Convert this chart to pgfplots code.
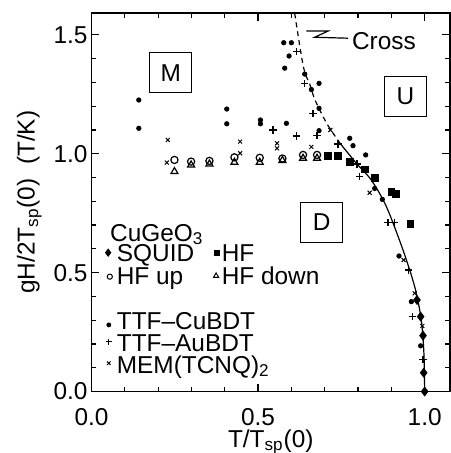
\documentclass[border=0pt]{standalone}
\usepackage{fontspec}
\setmainfont{Liberation Sans}
\usepackage{pgfplots}
\pgfplotsset{compat=1.18}
\begin{document}
\begin{tikzpicture}[font=\fontsize{12.2}{14}\selectfont]
\begin{axis}[
    scale only axis,
    width=179.25pt, height=189.25pt,
    xmin=0, xmax=1.076, ymin=0, ymax=1.592,
    axis line style={line width=0.75pt},
    xtick={0,0.5,1.0}, ytick={0,0.5,1.0,1.5},
    minor xtick={0.1,0.2,0.3,0.4,0.6,0.7,0.8,0.9},
    minor ytick={0.1,0.2,0.3,0.4,0.6,0.7,0.8,0.9,1.1,1.2,1.3,1.4},
    tick align=inside,
    major tick length=4pt, minor tick length=2.5pt,
    tick style={line width=0.6pt, black},
    /pgf/number format/assume math mode=true,
    /pgf/number format/.cd, fixed, fixed zerofill, precision=1, /pgfplots/.cd,
    xticklabel style={yshift=-5pt},
    yticklabel style={xshift=1.5pt},
    xlabel={T/T\textsubscript{sp}(0)},
    ylabel={gH/2T\textsubscript{sp}(0)\ \ (T/K)},
    xlabel style={yshift=5pt},
    ylabel style={yshift=-1pt},
    clip=false,
]
% theory curves
\addplot[black, line width=0.6pt, smooth] coordinates {
 (0.746,1.044)(0.795,0.960)(0.840,0.889)(0.885,0.778)(0.935,0.595)(0.970,0.441)(0.990,0.300)(0.998,0.153)(1.0,0.0)};
\addplot[black, line width=0.6pt, dash pattern=on 2.5pt off 2pt, smooth] coordinates {
 (0.610,1.590)(0.636,1.366)(0.656,1.289)(0.671,1.226)(0.706,1.128)(0.746,1.044)};
% TTF-CuBDT
\addplot[only marks, mark=*, mark size=1.1pt, black] coordinates {
 (0.142,1.226)(0.142,1.107)(0.406,1.188)(0.406,1.126)(0.507,1.142)(0.507,1.126)
 (0.577,1.467)(0.600,1.467)(0.593,1.411)(0.580,1.360)(0.640,1.335)(0.683,1.296)
 (0.660,1.270)(0.683,1.191)(0.585,1.128)(0.683,1.097)(0.775,1.065)(0.785,1.034)
 (0.823,0.995)(0.850,0.854)(0.873,0.808)(0.923,0.570)(0.960,0.378)(0.988,0.192)};
% TTF-AuBDT
\addplot[only marks, mark=+, mark size=1.8pt, black, mark options={line width=0.6pt}] coordinates {
 (0.615,1.429)(0.640,1.296)(0.665,1.170)(0.545,1.100)(0.615,1.075)(0.677,1.078)
 (0.740,1.041)(0.797,0.957)(0.805,0.904)(0.890,0.712)(0.910,0.712)(0.952,0.511)
 (0.963,0.315)(0.995,0.133)};
% MEM(TCNQ)2
\addplot[only marks, mark=x, mark size=1.4pt, black, mark options={line width=0.5pt}] coordinates {
 (0.229,1.058)(0.226,0.963)(0.446,1.051)(0.446,1.002)(0.557,1.044)(0.557,1.023)
 (0.660,1.029)(0.717,1.100)(0.835,0.836)(0.937,0.553)(0.970,0.413)(0.993,0.276)};
% HF up
\addplot[only marks, mark=o, mark size=1.8pt, black, mark options={line width=0.6pt}] coordinates {
 (0.249,0.974)(0.299,0.967)(0.354,0.970)(0.429,0.985)(0.505,0.983)(0.573,0.980)(0.635,0.995)(0.677,0.995)};
% HF down
\addplot[only marks, mark=triangle, mark size=2pt, black, mark options={line width=0.6pt}] coordinates {
 (0.249,0.925)(0.299,0.953)(0.354,0.957)(0.429,0.964)(0.505,0.964)(0.573,0.972)(0.635,0.981)(0.677,0.981)};
% HF
\addplot[only marks, mark=square*, mark size=1.7pt, black] coordinates {
 (0.710,0.990)(0.740,0.990)(0.775,0.967)(0.820,0.934)(0.850,0.897)(0.900,0.840)(0.913,0.830)(0.957,0.704)};
% SQUID
\addplot[only marks, mark=diamond*, mark size=2.2pt, black] coordinates {
 (0.977,0.385)(0.988,0.315)(0.995,0.235)(0.997,0.079)(1.0,0.0)};
% legend markers
\addplot[only marks, mark=diamond*, mark size=1.8pt, black] coordinates {(0.050,0.584)};
\addplot[only marks, mark=square*, mark size=1.3pt, black] coordinates {(0.377,0.584)};
\addplot[only marks, mark=o, mark size=1.3pt, black, mark options={line width=0.5pt}] coordinates {(0.055,0.483)};
\addplot[only marks, mark=triangle, mark size=1.5pt, black, mark options={line width=0.5pt}] coordinates {(0.374,0.486)};
\addplot[only marks, mark=*, mark size=1pt, black] coordinates {(0.052,0.280)};
\addplot[only marks, mark=+, mark size=1.6pt, black, mark options={line width=0.5pt}] coordinates {(0.052,0.209)};
\addplot[only marks, mark=x, mark size=1.2pt, black, mark options={line width=0.5pt}] coordinates {(0.052,0.119)};
% Cross pointer
\addplot[black, line width=0.6pt] coordinates {(0.645,1.516)(0.710,1.516)(0.670,1.490)(0.770,1.486)};
\node[anchor=base west, inner sep=0pt] at (axis cs:0.781,1.439) {Cross};
% region boxes
\node[draw, line width=0.6pt, minimum width=21pt, minimum height=20pt, inner sep=0pt] at (axis cs:0.238,1.341) {M};
\node[draw, line width=0.6pt, minimum width=21pt, minimum height=20pt, inner sep=0pt] at (axis cs:0.942,1.241) {U};
\node[draw, line width=0.6pt, minimum width=21pt, minimum height=20pt, inner sep=0pt] at (axis cs:0.691,0.712) {D};
% legend text
\node[anchor=base west, inner sep=0pt] at (axis cs:0.055,0.632) {CuGeO\textsubscript{3}};
\node[anchor=base west, inner sep=0pt] at (axis cs:0.075,0.546) {SQUID};
\node[anchor=base west, inner sep=0pt] at (axis cs:0.390,0.546) {HF};
\node[anchor=base west, inner sep=0pt] at (axis cs:0.075,0.448) {HF up};
\node[anchor=base west, inner sep=0pt] at (axis cs:0.390,0.448) {HF down};
\node[anchor=base west, inner sep=0pt] at (axis cs:0.075,0.259) {TTF--CuBDT};
\node[anchor=base west, inner sep=0pt] at (axis cs:0.075,0.167) {TTF--AuBDT};
\node[anchor=base west, inner sep=0pt] at (axis cs:0.075,0.077) {MEM(TCNQ)\textsubscript{2}};
\end{axis}
\pgfresetboundingbox
\path ([xshift=-45.75pt, yshift=-30.75pt]current axis.south west) rectangle ([xshift=0.5pt, yshift=6.5pt]current axis.north east);
\end{tikzpicture}
\end{document}
